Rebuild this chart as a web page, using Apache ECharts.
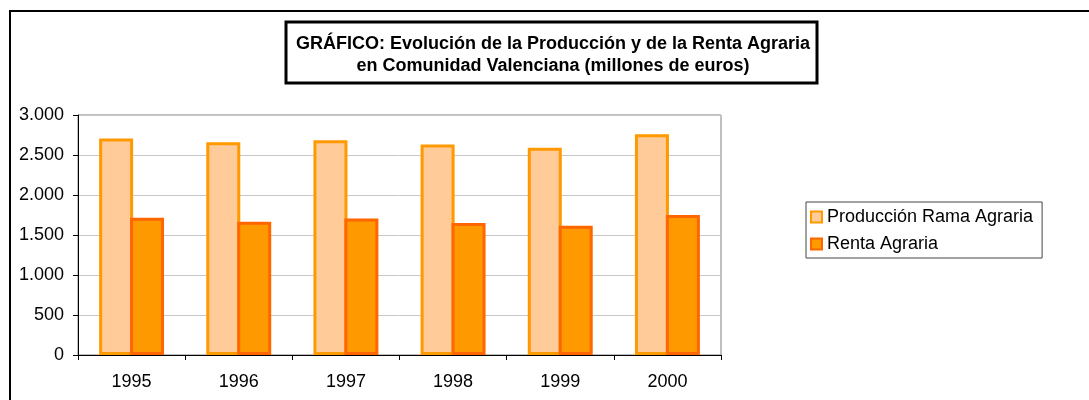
<!DOCTYPE html>
<html>
<head>
<meta charset="utf-8">
<script src="https://cdn.jsdelivr.net/npm/echarts@6/dist/echarts.min.js"></script>
<style>
html,body{margin:0;padding:0;background:#fff;}
#c{width:1089px;height:400px;}
</style>
</head>
<body>
<div id="c"></div>
<script>
var categories = ['1995', '1996', '1997', '1998', '1999', '2000'];
var produccion = [2705, 2660, 2685, 2630, 2590, 2760];
var renta = [1715, 1665, 1705, 1650, 1615, 1750];
var yTicks = [0, 500, 1000, 1500, 2000, 2500, 3000];
var titleText = 'GRÁFICO: Evolución de la Producción y de la Renta Agraria\nen Comunidad Valenciana (millones de euros)';
var seriesNames = ['Producción Rama Agraria', 'Renta Agraria'];

var FONT = '"Liberation Sans", Arial, sans-serif';
function fmt(v) {
  return String(v).replace(/\B(?=(\d{3})+(?!\d))/g, '.');
}

var chart = echarts.init(document.getElementById('c'), null, {renderer: 'canvas'});
chart.setOption({
  animation: false,
  backgroundColor: '#fff',
  graphic: [
    {type: 'rect', shape: {x: 10, y: 11, width: 1200, height: 500},
     style: {fill: 'none', stroke: '#000', lineWidth: 2}, z: 0},
    {type: 'rect', shape: {x: 286, y: 22, width: 531, height: 61},
     style: {fill: '#fff', stroke: '#000', lineWidth: 3}, z: 1}
  ],
  title: {
    text: titleText,
    left: 548, top: 28, textAlign: 'center',
    textStyle: {fontFamily: FONT, fontSize: 18, fontWeight: 'bold', color: '#000', lineHeight: 22}
  },
  legend: {
    orient: 'vertical',
    left: 806, top: 202,
    padding: [6, 9, 5, 4],
    itemGap: 9,
    itemWidth: 11, itemHeight: 11,
    borderColor: '#444', borderWidth: 1,
    icon: 'rect',
    textStyle: {fontFamily: FONT, fontSize: 18, color: '#000'},
    data: seriesNames
  },
  grid: {left: 78, right: 368, top: 115, bottom: 45, show: true, borderColor: '#808080', borderWidth: 1},
  xAxis: {
    type: 'category',
    data: categories,
    axisLine: {lineStyle: {color: '#000', width: 1}},
    axisTick: {show: true, length: 5, lineStyle: {color: '#000'}, alignWithLabel: false},
    axisLabel: {fontFamily: FONT, fontSize: 18, color: '#000', margin: 18}
  },
  yAxis: {
    type: 'value',
    min: yTicks[0], max: yTicks[yTicks.length - 1], interval: 500,
    axisLine: {show: true, lineStyle: {color: '#000', width: 1}},
    axisTick: {show: true, length: 5, lineStyle: {color: '#000'}},
    axisLabel: {fontFamily: FONT, fontSize: 18, color: '#000', margin: 14, formatter: function (v) { return fmt(v); }},
    splitLine: {lineStyle: {color: '#c8c8c8', width: 1}}
  },
  series: [
    {
      name: seriesNames[0], type: 'bar', data: produccion,
      barWidth: 34, barGap: '-9%',
      itemStyle: {color: '#FFCC99', borderColor: '#FF9900', borderWidth: 3}
    },
    {
      name: seriesNames[1], type: 'bar', data: renta,
      barWidth: 34, barGap: '-9%',
      itemStyle: {color: '#FF9900', borderColor: '#FF6600', borderWidth: 3}
    }
  ]
});
</script>
</body>
</html>
